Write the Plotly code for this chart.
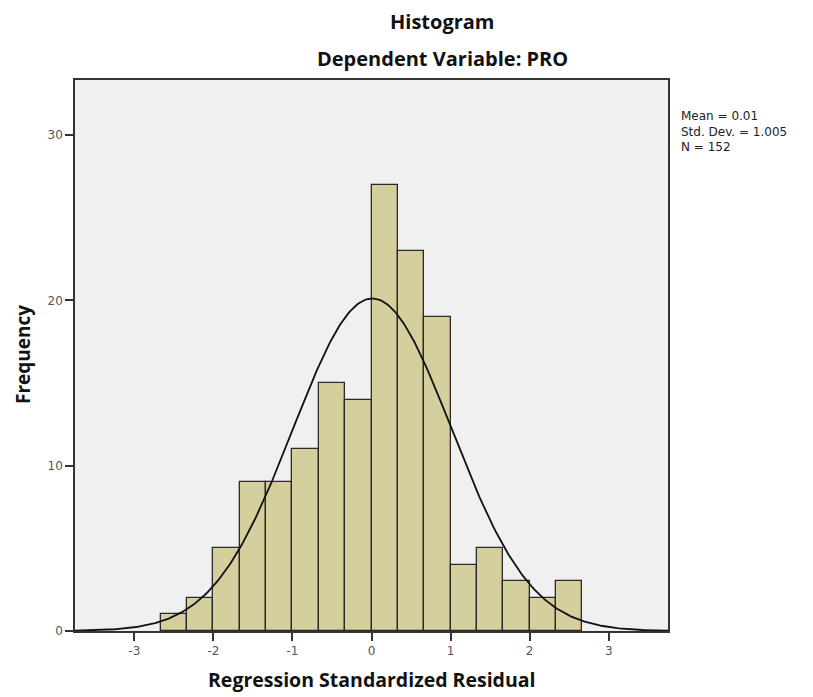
import numpy as np
import plotly.graph_objects as go

# Data
bin_left_edges = [-8/3, -7/3, -6/3, -5/3, -4/3, -3/3, -2/3, -1/3, 0, 1/3, 2/3, 3/3, 4/3, 5/3, 6/3, 7/3]
bin_width = 1/3
counts = [1, 2, 5, 9, 9, 11, 15, 14, 27, 23, 19, 4, 5, 3, 2, 3]
mean_val = 0.01
std_val = 1.005
n_val = 152
x_ticks = [-3, -2, -1, 0, 1, 2, 3]
x_tick_labels = ["-3", "-2", "-1", "0", "1", "2", "3"]
y_ticks = [0, 10, 20, 30]
stats_lines = ["Mean = 0.01", "Std. Dev. = 1.005", "N = 152"]

centers = [e + bin_width / 2 for e in bin_left_edges]

fig = go.Figure()
fig.add_trace(go.Bar(
    x=centers, y=counts, width=bin_width,
    marker=dict(color="#d4cf9c", line=dict(color="#2a2a2a", width=1.3)),
    hoverinfo="x+y", showlegend=False,
))

xs = np.linspace(-3.75, 3.75, 400)
ys = n_val * bin_width * np.exp(-0.5 * ((xs - mean_val) / std_val) ** 2) / (std_val * np.sqrt(2 * np.pi))
fig.add_trace(go.Scatter(x=xs, y=ys, mode="lines", line=dict(color="#111111", width=1.8),
                         showlegend=False, hoverinfo="skip"))

axis_common = dict(showline=True, linecolor="#333333", linewidth=1.6, mirror=True,
                   ticks="outside", ticklen=8, tickwidth=1.5, tickcolor="#333333",
                   showgrid=False, zeroline=False,
                   tickfont=dict(family="DejaVu Sans", size=12, color="#555555"))

W, H = 813, 697
pl, pr, pt, pb = 75, 145, 80, 66
pw, ph = W - pl - pr, H - pt - pb


def px(xp, yp):
    # pixel (from top-left) -> paper coords
    return (xp - pl) / pw, (H - yp - pb) / ph


annots = []


def add_text(text, xp, yp, size, bold=True, angle=0, xanchor="center", yanchor="middle",
             family="Open Sans", color="#111111"):
    x, y = px(xp, yp)
    annots.append(dict(text=f"<b>{text}</b>" if bold else text, x=x, y=y, xref="paper", yref="paper",
                       xanchor=xanchor, yanchor=yanchor, textangle=angle, showarrow=False, align="left",
                       font=dict(family=family, size=size, color=color)))


add_text("Histogram", 442, 22, 20)
add_text("Dependent Variable: PRO", 442, 59, 20)
add_text("Regression Standardized Residual", 372, 679, 19.5)
add_text("Frequency", 23, 355, 19, angle=-90)
add_text("<br>".join(stats_lines), 679, 107, 12, bold=False, xanchor="left", yanchor="top",
         family="DejaVu Sans", color="#222222")

fig.update_layout(
    width=W, height=H,
    margin=dict(l=pl, r=pr, t=pt, b=pb),
    paper_bgcolor="white", plot_bgcolor="#f0f0f0",
    bargap=0,
    xaxis=dict(range=[-3.75, 3.75], tickvals=x_ticks, ticktext=x_tick_labels, **axis_common),
    yaxis=dict(range=[0, 33.33], tickvals=y_ticks, **axis_common),
    annotations=annots,
)

fig.write_html("out.html", config={"displayModeBar": False},
               post_script="document.body.style.margin='0';document.body.style.overflow='hidden';")
